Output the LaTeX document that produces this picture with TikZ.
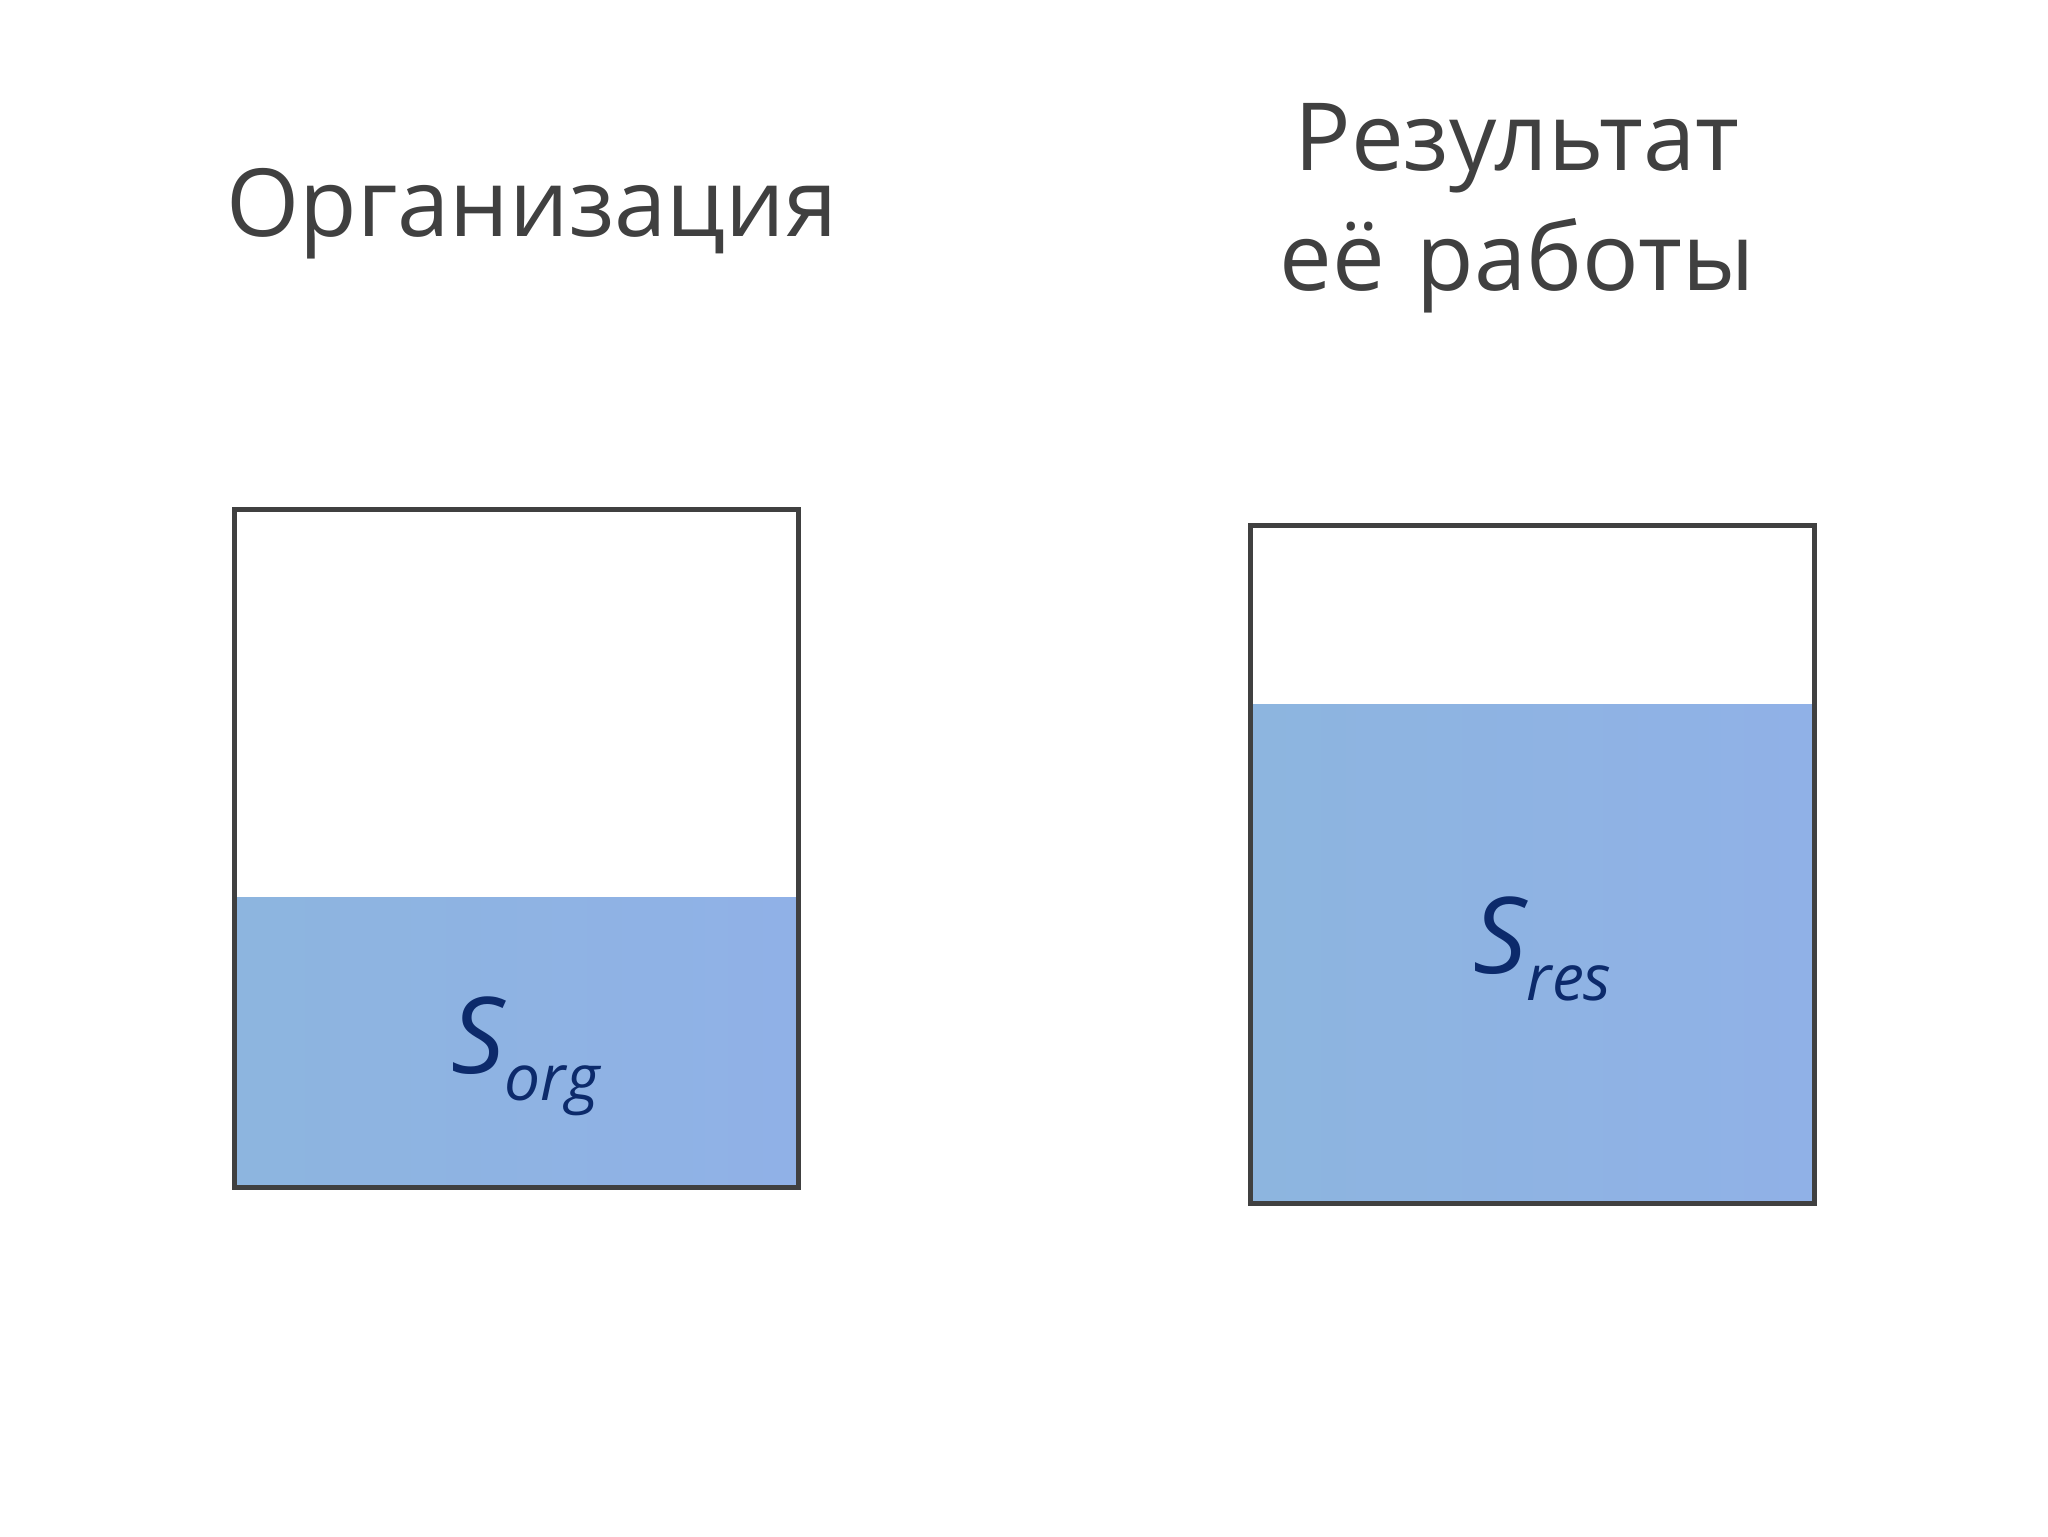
\documentclass[tikz,border=0pt]{standalone}
\usepackage{fontspec}
\setmainfont{Open Sans}
\definecolor{edge}{HTML}{404040}
\definecolor{wl}{HTML}{8DB5DF}
\definecolor{wr}{HTML}{90B1E7}
\definecolor{ink}{HTML}{0C2A6B}
\tikzset{
  title/.style={text=edge, font=\fontsize{47}{56}\selectfont, align=center, inner sep=0pt},
  vessel/.style={draw=edge, line width=2.5pt, line join=miter},
  water/.style={left color=wl, right color=wr, draw=none},
  sym/.style={text=ink, inner sep=0pt, anchor=base west}
}
\newcommand{\symlabel}[1]{\fontsize{53}{60}\selectfont\itshape S\raisebox{-13.5pt}{\fontsize{32}{40}\selectfont #1}}
\begin{document}
\begin{tikzpicture}[x=0.5pt,y=-0.5pt]
\useasboundingbox (0,0) rectangle (2048,1536);
% left vessel
\fill[water] (234,897) rectangle (798,1187);
\draw[vessel] (234,509) rectangle (798,1187);
% right vessel
\fill[water] (1250,704) rectangle (1814,1203);
\draw[vessel] (1250,525) rectangle (1814,1203);
% titles
\node[title, anchor=base] (t1) at (532,236) {Организация};
\node[title, anchor=base] (t2a) at (1517,170) {Результат};
\node[title, anchor=base] (t2b) at (1517,290) {её\hspace{0.08em} работы};
% symbols
\node[sym] (sorg) at (451,1073) {\symlabel{org}};
\node[sym] (sres) at (1473,973) {\symlabel{res}};
\end{tikzpicture}
\end{document}
